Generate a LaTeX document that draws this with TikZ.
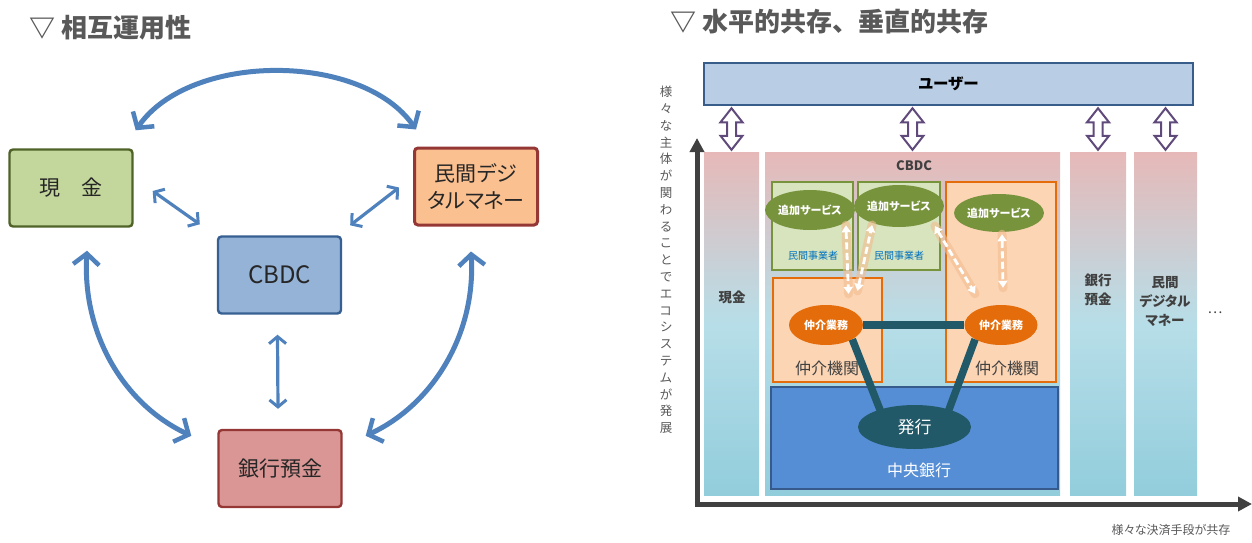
\documentclass[tikz,border=0pt]{standalone}
\usepackage{fontspec}
\setmainfont{Noto Sans CJK JP}[RawFeature=+palt]
\newfontfamily\ttlfont{Noto Sans CJK JP}
\usepackage{tikz}
\usetikzlibrary{arrows.meta,positioning,calc,shapes.geometric}
\definecolor{arrblue}{RGB}{79,129,189}
\definecolor{cashfill}{RGB}{195,214,155}
\definecolor{cashline}{RGB}{79,98,40}
\definecolor{pdmfill}{RGB}{250,192,144}
\definecolor{redline}{RGB}{149,55,53}
\definecolor{cbdcfill}{RGB}{149,179,215}
\definecolor{cbdcline}{RGB}{55,96,146}
\definecolor{bankfill}{RGB}{217,150,148}
\definecolor{titlegrey}{RGB}{89,89,89}
\definecolor{textgrey}{RGB}{64,64,64}
\definecolor{userfill}{RGB}{185,205,229}
\definecolor{userline}{RGB}{56,93,138}
\definecolor{dblpurple}{RGB}{96,74,123}
\definecolor{colpink}{RGB}{230,185,184}
\definecolor{colmid}{RGB}{183,222,232}
\definecolor{colblue}{RGB}{146,205,220}
\definecolor{pvtfill}{RGB}{215,228,189}
\definecolor{pvtline}{RGB}{119,147,60}
\definecolor{pvtblue}{RGB}{0,112,192}
\definecolor{agtfill}{RGB}{252,213,181}
\definecolor{agtorange}{RGB}{228,108,10}
\definecolor{cbfill}{RGB}{85,142,213}
\definecolor{cbline}{RGB}{54,90,140}
\definecolor{issueteal}{RGB}{33,89,104}
\begin{document}
\begin{tikzpicture}[x=1pt,y=-1pt,
  ttl/.style={font=\ttlfont\fontsize{26}{30}\selectfont\bfseries,text=titlegrey,inner sep=0pt,anchor=west},
  ibox/.style={draw,line width=2.4pt,rounded corners=3.5pt,minimum width=123pt,minimum height=77pt,
    inner sep=0pt,align=center,text=black!85,font=\fontsize{21}{27}\selectfont},
  bigarr/.style={arrblue,line width=5pt,{Straight Barb[length=11pt,width=26pt,line width=4.5pt]}-{Straight Barb[length=11pt,width=26pt,line width=4.5pt]}},
  smallarr/.style={arrblue,line width=3.2pt,{Straight Barb[length=7pt,width=17pt,line width=3pt]}-{Straight Barb[length=7pt,width=17pt,line width=3pt]}},
  colbar/.style={inner sep=0pt,minimum height=343pt,top color=colpink,bottom color=colblue,middle color=colmid},
  collbl/.style={text=textgrey,align=center,font=\fontsize{13.5}{19}\selectfont\bfseries},
  dblarr/.style={draw=dblpurple,fill=white,line width=2pt,line join=miter},
  axis/.style={draw=textgrey,line width=5pt,-{Triangle[length=14pt,width=14pt]}},
  svc/.style={ellipse,fill=pvtline,text=white,inner sep=0pt,minimum width=66pt,minimum height=40pt,
    font=\fontsize{11}{12}\selectfont\bfseries},
  med/.style={ellipse,fill=agtorange,text=white,inner sep=0pt,minimum width=74pt,minimum height=40pt,
    font=\fontsize{11}{12}\selectfont\bfseries},
  pvtbox/.style={draw=pvtline,fill=pvtfill,line width=2.2pt,inner sep=0pt,minimum height=88pt},
  agtbox/.style={draw=agtorange,fill=agtfill,line width=2.2pt,inner sep=0pt,minimum width=110pt},
  link/.style={draw=issueteal,line width=7.5pt},
  glow/.style={draw=agtorange!45,line width=9pt,opacity=0.6,line cap=round},
  dasharr/.style={draw=white,line width=2.8pt,dash pattern=on 7pt off 3.5pt,
    {Triangle[length=7pt,width=9pt]}-{Triangle[length=7pt,width=9pt]}}]
\useasboundingbox (0,0) rectangle (1252,543);
% ---------- left: interoperability ----------
\node[ttl] (ttlleft) at (29,28) {▽ 相互運用性};
\node[ibox,fill=cashfill,draw=cashline] (cash) at (71,188) {現　金};
\node[ibox,fill=pdmfill,draw=redline,line width=3pt] (pdm) at (476,186.5) {民間デジ\\タルマネー};
\node[ibox,fill=cbdcfill,draw=cbdcline,font=\fontsize{24}{27}\selectfont] (cbdc) at (279.5,275) {CBDC};
\node[ibox,fill=bankfill,draw=redline] (bank) at (280,468.5) {銀行預金};
% curved links round the outside
\draw[bigarr] ([xshift=2pt,yshift=18pt]cash.north east) .. controls (190,52) and (362,52) .. ([xshift=3pt,yshift=17pt]pdm.north west);
\draw[bigarr] ([xshift=16pt,yshift=-23pt]cash.south) .. controls (82,335) and (125,405) .. ([xshift=-26pt,yshift=-7pt]bank.north west);
\draw[bigarr] ([xshift=-5pt,yshift=-25pt]pdm.south) .. controls (476,335) and (432,405) .. ([xshift=23pt,yshift=-7pt]bank.north east);
% short links to CBDC
\draw[smallarr] ([xshift=19pt,yshift=-3pt]cash.east) -- ([xshift=-17pt,yshift=11pt]cbdc.north west);
\draw[smallarr] ([xshift=-14pt,yshift=-1pt]pdm.west) -- ([xshift=8pt,yshift=10pt]cbdc.north east);
\draw[smallarr] ([xshift=-2pt,yshift=-20pt]cbdc.south) -- ([xshift=-2pt,yshift=20pt]bank.north);
% ---------- right: horizontal and vertical coexistence ----------
\node[ttl] (ttlright) at (670,22) {▽ 水平的共存、垂直的共存};
\node[draw=userline,fill=userfill,line width=2.5pt,minimum width=489pt,minimum height=42pt,inner sep=0pt,
  font=\fontsize{15.5}{16}\selectfont\bfseries] (user) at (948.5,84) {ユーザー};
\foreach \nm/\cx/\w in {colgen/731.5/55, colcbdc/912.5/295, colbank/1098/56, colpdm/1165.5/63}
  \node[colbar,minimum width=\w pt] (\nm) at (\cx,323.5) {};
% axes
\coordinate (origin) at (697,504);
\coordinate (ytop) at (697,138);
\coordinate (xend) at (1252,504);
\draw[axis] ([yshift=2.5pt]origin) -- (ytop);
\draw[axis] ([xshift=-2.5pt]origin) -- (xend);
\node[text=titlegrey,align=center,font=\fontsize{12.5}{16.8}\selectfont] (ecotxt) at (666,260)
  {様\\々\\な\\主\\体\\が\\関\\わ\\る\\こ\\と\\で\\エ\\コ\\シ\\ス\\テ\\ム\\が\\発\\展};
\node[text=titlegrey,font=\fontsize{12}{14}\selectfont] (paytxt) at (1171,530) {様々な決済手段が共存};
% hollow double arrows between users and each means
\foreach \c in {colgen,colcbdc,colbank,colpdm}
  \draw[dblarr] let \p1=(\c.north), \p2=(user.south) in
    (\x1,\y2-2pt) -- (\x1+11pt,\y2-16pt) -- (\x1+4.5pt,\y2-16pt) -- (\x1+4.5pt,\y1+16pt) -- (\x1+11pt,\y1+16pt)
    -- (\x1,\y1+2pt) -- (\x1-11pt,\y1+16pt) -- (\x1-4.5pt,\y1+16pt) -- (\x1-4.5pt,\y2-16pt) -- (\x1-11pt,\y2-16pt) -- cycle;
% column labels
\node[collbl] (lblgen) at (732,297) {現金};
\node[collbl] (lblbank) at (1098,290) {銀行\\預金};
\node[collbl] (lblpdm) at (1165,301) {民間\\デジタル\\マネー};
\node[text=textgrey,font=\fontsize{14}{14}\selectfont] (more) at (1215,313) {…};
% inside the CBDC column
\node[collbl,font=\fontsize{13}{14}\selectfont\bfseries] (cbdclbl) at (914,166) {CBDC};
\node[pvtbox,minimum width=81pt] (pvt1) at (812.5,226) {};
\node[pvtbox,minimum width=82pt] (pvt2) at (899,226) {};
\node[agtbox,minimum height=104pt,minimum width=109pt] (agent1) at (827.5,330) {};
\node[agtbox,minimum height=200pt] (agent2) at (1001,282) {};
\node[draw=cbline,fill=cbfill,line width=2pt,minimum width=287pt,minimum height=102pt,inner sep=0pt] (cbank) at (914.5,438) {};
\node[svc] (svc1) at (810,210) {追加サービス};
\node[svc,minimum width=67pt,minimum height=42pt] (svc2) at (899,206) {追加サービス};
\node[svc,minimum width=68pt,minimum height=38pt] (svc3) at (999,213) {追加サービス};
\node[text=pvtblue,font=\fontsize{10}{11}\selectfont] (pvt1lbl) at (813,256) {民間事業者};
\node[text=pvtblue,font=\fontsize{10}{11}\selectfont] (pvt2lbl) at (899,256) {民間事業者};
\node[med] (med1) at (826,325) {仲介業務};
\node[med,minimum width=73pt] (med2) at (1001,325) {仲介業務};
\node[text=textgrey,font=\fontsize{16}{17}\selectfont] (agt1lbl) at (827,368) {仲介機関};
\node[text=textgrey,font=\fontsize{16}{17}\selectfont] (agt2lbl) at (1007,368) {仲介機関};
\node[ellipse,fill=issueteal,text=white,minimum width=113pt,minimum height=44pt,inner sep=0pt,
  font=\fontsize{17}{18}\selectfont] (hakko) at (914.5,427) {発行};
\node[text=white,font=\fontsize{16}{17}\selectfont] (cblbl) at (919,470) {中央銀行};
% issuing links
\draw[link] (med1.east) -- (med2.west);
\draw[link] (med1.south east) -- ([xshift=7pt,yshift=-2pt]hakko.north west);
\draw[link] (med2.south west) -- ([xshift=-7pt,yshift=-2pt]hakko.north east);
% added services
\coordinate (s1a) at ([xshift=4pt,yshift=-1pt]svc1.south east);
\coordinate (s1b) at ([xshift=21pt,yshift=-17pt]agent1.north);
\coordinate (s2a) at ([xshift=30pt,yshift=-14pt]agent1.north);
\coordinate (s2b) at ([xshift=5pt,yshift=-4pt]svc2.south west);
\coordinate (s3a) at ([xshift=4pt,yshift=-5pt]svc2.south east);
\coordinate (s3b) at ([yshift=17pt]med2.north west);
\coordinate (s4a) at ([xshift=3pt,yshift=-2pt]svc3.south);
\coordinate (s4b) at ([xshift=2pt,yshift=17pt]med2.north);
\foreach \a/\b in {s1a/s1b, s2a/s2b, s3a/s3b, s4a/s4b}{
  \draw[glow] (\a) -- (\b);
  \draw[dasharr] (\a) -- (\b);
}
\end{tikzpicture}
\end{document}
